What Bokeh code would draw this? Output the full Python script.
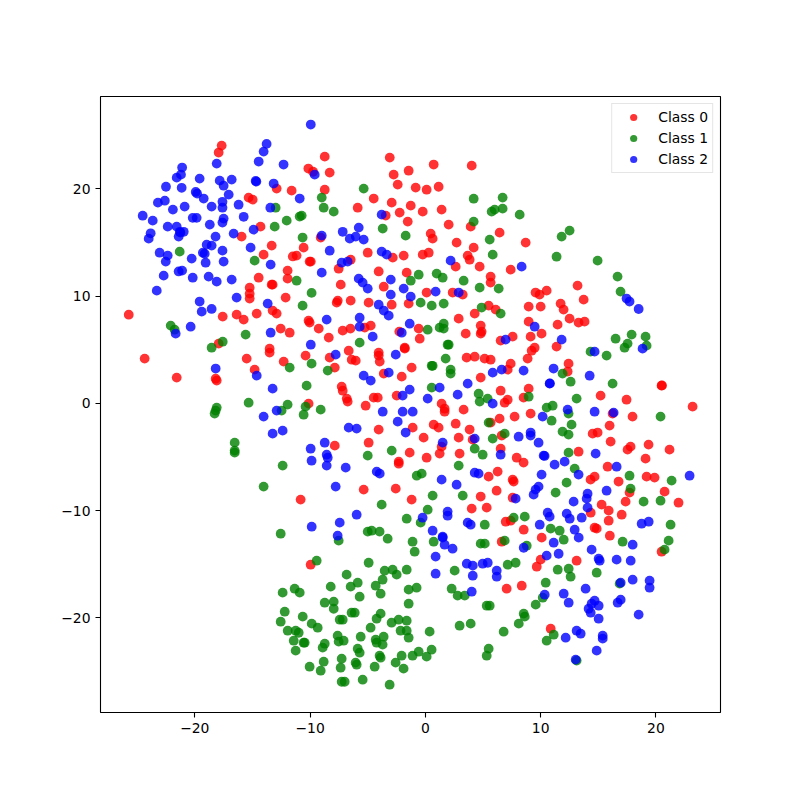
from bokeh.embed import file_html
from bokeh.resources import INLINE
from bokeh.plotting import figure
from bokeh.models import Range1d, FixedTicker, Legend, LegendItem

class0_x = [-17.67,-17.93,-10.15,-9.74,-12.9,-11.6,-15.33,-14.98,-14.3,-15.94,-13.33,-14.03,-10.56,-11.5,-11.17,-10.04,-11.95,-11.95,-14.46,-13.33,-13.25,-15.24,-15.24,-15.24,-12.12,
 -8.73,-3.09,0.72,4.02,-8.3,-2.75,-1.45,-2.4,-0.84,0.11,1.15,-8.73,-4.48,-2.92,-5.87,-1.27,-3.44,-2.23,-0.23,1.41,-1.53,2.02,3.93,0.46,0.63,6.44,-9.08,2.71,4.19,-5.0,-1.88,-0.23,0.29,-2.83,3.67,3.84,-6.48,-9.94,-7.52,2.63,4.71,-4.05,-1.62,7.4,5.66,5.66,-7.34,-3.61,0.11,2.37,3.24,-7.6,-7.69,-6.48,-4.92,-2.92,-1.45,5.49,
 8.7,13.2,9.56,9.91,10.52,13.73,11.73,8.96,10.0,
 -25.73,-17.58,-16.37,-15.76,-14.63,-13.25,-12.9,-12.55,-11.77,-10.13,-10.04,-17.93,-24.35,-15.5,-13.51,-13.51,-10.39,-12.29,-14.81,-21.57,-18.19,-18.1,-10.13,-10.82,
 6.1,4.28,2.89,-9.25,-8.38,-7.17,-6.5,-5.26,-4.74,-2.26,-0.58,-0.49,4.8,4.88,4.8,3.5,6.53,-6.65,-8.3,-6.39,-6.04,-4.05,-4.05,-3.96,-1.79,-1.79,3.58,4.28,5.14,5.66,7.4,-7.86,-3.61,-2.05,-1.19,7.14,4.8,-7.26,-7.17,-6.82,-6.74,-4.48,-4.13,-2.49,-5.18,6.53,7.14,6.88,1.41,1.67,1.67,3.32,6.44,2.63,0.72,1.15,-1.1,-4.05,3.84,5.66,-0.15,2.89,4.1,6.62,-7.86,-4.92,1.41,1.24,6.53,-1.36,2.97,0.11,-2.31,-2.31,6.27,5.49,-5.35,-2.57,6.18,4.8,-1.19,4.02,5.32,
 11.99,12.51,13.29,13.81,8.96,11.47,10.08,7.57,9.13,11.38,9.48,9.22,8.87,12.42,12.34,20.49,20.52,8.96,8.52,15.2,17.45,23.18,16.24,9.13,7.74,17.97,15.98,14.51,14.94,16.07,13.29,19.36,17.8,17.54,21.18,19.1,7.92,8.52,15.81,14.68,14.33,7.57,7.66,16.76,19.19,19.88,17.71,20.75,17.37,21.96,15.29,7.57,
 -9.95,
 6.97,7.4,8.53,10.09,6.62,14.34,15.9,17.03,15.9,14.68,14.86,16.0,20.49,13.12,10.0,9.66,7.05,8.36,10.87]
class0_y = [24.04,23.39,21.9,21.6,20.03,19.84,19.19,19.0,16.48,15.55,14.71,13.87,14.52,13.7,13.78,13.22,12.38,11.63,11.72,11.07,11.07,10.79,10.23,9.77,9.86,
 23.01,22.92,22.27,22.17,21.52,21.33,21.7,20.4,20.12,19.93,20.2,19.93,19.1,18.72,18.25,18.44,17.51,17.79,17.88,18.07,16.95,16.67,16.48,15.83,15.36,15.92,15.46,14.99,14.52,14.05,13.78,13.87,14.05,13.59,13.78,13.4,13.4,13.22,12.56,12.75,12.75,12.3,12.19,12.47,11.82,11.26,11.07,10.88,10.33,10.33,10.14,9.58,9.39,9.58,9.39,9.2,9.3,9.11,
 14.99,10.98,10.33,10.14,10.51,9.67,9.3,9.02,9.02,
 8.27,8.09,8.27,7.81,8.37,8.65,8.37,6.97,6.59,7.71,7.53,5.57,4.17,4.17,5.1,4.73,4.45,3.89,3.14,2.4,2.3,2.12,-0.03,-8.98,
 8.74,8.37,7.9,6.97,6.13,6.78,6.97,7.06,7.25,6.69,6.97,6.03,7.25,6.69,6.5,6.5,5.85,4.91,4.26,4.07,3.98,4.73,4.45,3.89,5.19,5.1,4.26,4.35,4.17,4.07,3.7,3.33,2.77,2.49,3.33,3.14,2.4,1.56,1.18,0.44,0.16,0.53,0.53,0.72,-0.22,1.18,0.34,0.06,-0.03,-0.5,-0.78,-0.59,-1.43,-1.9,-1.99,-2.27,-2.27,-2.45,-2.45,-1.8,-3.2,-3.2,-3.39,-3.01,-3.95,-3.67,-4.04,-4.69,-4.23,-4.6,-4.69,-5.07,-5.44,-5.63,-6.37,-6.84,-8.05,-7.96,-8.15,-8.7,-8.98,-9.82,-9.73,
 8.74,7.9,7.53,7.62,7.62,7.34,6.5,6.22,6.22,5.29,5.19,4.91,4.17,3.7,2.96,1.65,1.67,1.37,0.53,0.72,0.34,-0.31,-0.96,-0.96,-1.24,-1.24,-2.08,-2.83,-2.73,-3.57,-4.51,-3.85,-4.04,-4.32,-4.32,-5.16,-5.07,-5.53,-5.91,-6.84,-7.12,-7.12,-7.3,-7.3,-6.84,-6.93,-8.33,-8.24,-9.17,-9.27,-9.45,-8.8,
 -15.05,
 -11.04,-10.95,-11.79,-12.53,-12.91,-10.2,-10.01,-10.39,-10.95,-11.6,-11.69,-12.35,-13.84,-14.68,-14.58,-15.24,-17.29,-17.01,-21.02]

class1_x = [-12.99,-10.73,-10.9,-12.03,-13.07,-10.65,-21.31,-14.81,-11.17,-9.87,-10.65,
 -5.35,-8.99,-8.82,-7.95,4.19,6.7,6.7,6.01,5.75,4.19,-3.7,-1.71,5.58,5.84,-0.58,-1.27,0.98,1.5,3.32,4.71,6.36,-0.41,0.55,1.59,4.88,
 8.18,12.51,11.82,11.38,14.94,16.67,16.93,
 -22.09,-21.75,-15.59,-17.58,-18.54,-11.77,-9.87,-10.3,-15.33,-18.1,-18.19,-18.28,-11.95,-10.39,-10.56,-12.47,-16.54,-16.54,-16.54,-12.38,-14.03,
 6.53,0.2,1.24,1.59,1.59,-5.7,1.93,2.02,-8.47,1.76,0.55,0.63,2.19,2.19,0.55,4.62,4.71,5.4,-9.08,5.49,6.88,5.84,4.28,4.97,-5.0,-2.92,2.89,-0.32,-0.75,0.63,3.24,-3.79,0.2,
 17.89,16.5,19.1,17.54,17.28,19.19,14.33,15.72,11.9,12.6,16.24,8.96,13.12,10.52,11.04,12.42,10.95,20.4,12.68,11.9,12.42,12.42,12.95,17.71,21.36,12.25,17.8,11.3,18.93,20.4,
 -1.62,-0.41,-12.55,-7.52,-5.0,-4.66,-3.97,-3.27,-1.11,0.72,-0.93,-9.43,-4.92,-6.83,-3.53,-2.84,-2.49,-1.62,2.54,-3.71,-8.21,-5.87,-6.48,-4.31,-12.38,-11.34,-10.9,-5.7,-3.88,-1.45,-0.76,2.28,2.8,-8.73,-7.95,-7.95,-1.45,-12.2,-6.4,-6.13,-10.64,-3.88,-4.23,-7.43,-7.17,-12.55,-9.86,-2.93,-2.32,-1.62,-9.34,-4.75,2.97,-11.94,-11.25,-10.99,-2.15,-1.62,0.37,-7.61,-5.61,-3.62,-1.45,-11.42,-10.56,-10.47,-7.52,-7.09,-4.31,-4.23,-3.71,-8.73,-8.91,-11.25,-5.87,-5.7,0.54,-0.58,-1.11,0.11,-2.06,-3.97,-3.88,-7.26,-8.82,-6.05,-5.96,-2.58,-10.04,-7.35,-4.4,-1.89,-9.08,-5.44,-7.26,-7.0,-3.1,
 7.66,8.62,5.15,10.87,11.65,12.0,21.27,17.11,21.1,20.75,6.88,4.8,5.15,8.79,7.14,7.83,11.48,12.43,12.6,14.86,10.44,16.85,3.41,10.18,9.57,5.32,5.58,8.53,8.62,8.1,3.93,6.79,11.13,10.52,5.49,5.32,13.12]
class1_y = [18.25,17.51,17.42,17.04,16.48,15.46,14.15,13.31,11.44,10.3,9.11,
 20.03,19.19,18.25,17.88,19.09,19.19,18.16,18.07,17.88,16.95,16.3,15.64,15.27,13.87,12.0,11.44,12.1,11.72,11.44,10.79,10.7,9.39,9.11,9.3,8.93,
 17.6,16.11,15.55,13.68,13.31,11.82,10.42,
 7.25,6.87,6.41,5.75,5.19,3.33,3.7,1.65,0.06,-0.4,-0.68,-0.96,-0.12,-0.31,-1.06,-0.68,-3.67,-4.41,-4.6,-5.81,-7.77,
 8.37,6.87,7.06,7.43,6.97,5.66,5.47,5.47,3.05,4.17,3.5,3.5,3.14,2.77,1.46,0.9,0.16,0.44,-0.59,-1.8,-2.83,-3.29,-4.23,-4.79,-4.88,-4.41,-5.81,-6.56,-6.75,-8.61,-8.61,-9.45,-9.92,
 6.41,6.03,6.22,5.57,5.19,5.38,4.82,4.45,2.77,2.02,1.84,0.62,0.44,-0.4,-0.22,-0.96,-1.62,-1.24,-1.99,-2.64,-2.92,-4.6,-6.09,-6.75,-7.21,-7.4,-7.96,-8.33,-9.17,-9.08,
 -10.76,-11.13,-12.16,-12.81,-11.97,-11.88,-11.97,-12.63,-12.91,-12.91,-13.84,-14.68,-14.87,-15.98,-15.61,-15.52,-15.98,-15.52,-15.61,-16.45,-17.1,-16.73,-17.1,-17.01,-17.66,-17.29,-17.66,-18.04,-17.76,-17.38,-17.2,-17.29,-17.94,-18.6,-18.5,-19.16,-18.69,-19.44,-19.53,-19.53,-19.9,-19.62,-20.09,-20.18,-20.18,-20.37,-20.55,-20.46,-20.18,-20.28,-20.93,-20.93,-20.74,-21.21,-21.21,-21.4,-21.21,-21.21,-21.3,-21.67,-21.77,-21.77,-21.86,-22.14,-22.33,-22.33,-22.23,-22.14,-22.05,-22.33,-22.51,-22.42,-22.79,-23.07,-22.89,-23.26,-22.98,-23.17,-23.54,-23.63,-23.54,-23.54,-23.73,-23.82,-24.1,-24.19,-24.38,-24.19,-24.57,-24.66,-24.57,-24.75,-24.94,-25.78,-25.97,-25.97,-26.25,
 -10.67,-10.57,-11.32,-11.69,-11.88,-12.72,-11.32,-12.91,-12.81,-13.65,-12.81,-13.09,-13.09,-13.28,-15.05,-14.87,-15.52,-15.43,-16.17,-15.8,-16.73,-16.82,-17.94,-18.13,-18.78,-18.88,-18.88,-19.62,-19.9,-20.55,-20.55,-21.3,-21.58,-22.14,-22.89,-23.54,-24.0]

class2_x = [-13.77,-14.03,-14.46,-18.1,-12.3,-21.1,-21.2,-21.57,-19.58,-17.84,-16.8,-14.72,-14.66,-22.5,-21.14,-17.5,-13.16,-19.92,-19.8,-17.06,-19.23,-22.6,-23.2,-10.9,-17.6,-16.2,-20.88,-18.54,-17.6,-13.45,-21.9,-24.52,-23.65,-20.18,-19.84,-17.5,-15.76,-17.6,-18.7,-22.35,-21.57,-14.9,-16.63,-20.96,-21.3,-21.25,-23.83,-24.0,-21.4,-18.2,-18.97,-18.54,-15.16,-17.6,-23.05,-19.3,-19.14,-22.35,-20.27,-22.52,-19.06,-17.5,-13.42,-21.4,-21.1,-22.7,-20.18,-18.8,-18.1,-16.8,-23.3,-16.37,-19.58,-13.68,-18.54,
 -9.94,-9.6,-7.17,-5.78,-6.56,-6.04,-5.35,-8.99,-8.3,-3.79,-3.79,-3.35,-7.26,-6.74,-8.99,-5.78,-5.44,-5.0,-3.0,-1.88,-3.0,-1.27,0.89,2.89,2.19,-4.05,
 8.35,17.45,17.71,18.5,
 -19.4,-20.36,-21.66,-13.42,-9.94,-18.19,-14.63,-13.25,-12.9,-14.03,-12.38,-13.25,-9.95,-9.87,
 -3.61,-3.18,-5.7,-8.56,-5.7,-4.57,-1.36,-2.05,-7.78,-2.57,6.96,6.62,5.84,-3.18,-5.35,-4.74,3.67,1.24,-1.36,-1.97,2.8,0.2,5.84,-3.7,-1.97,-1.1,-2.4,-6.65,-5.96,-1.71,1.5,4.28,-8.73,-8.56,-8.47,-8.56,-6.91,-4.22,-3.96,6.53,4.28,4.62,1.41,2.71,-7.78,
 9.48,11.82,14.68,18.84,11.12,8.52,14.25,10.78,10.8,12.34,10.17,14.68,16.33,8.09,9.13,9.13,9.82,10.26,10.34,14.77,11.21,12.08,16.59,13.29,10.08,22.92,9.82,9.56,9.39,15.72,14.07,13.99,12.86,14.07,7.83,
 -5.96,-9.86,-7.43,-7.61,1.93,1.93,-0.24,0.63,1.5,1.5,1.67,2.36,0.89,0.89,
 10.61,10.78,12.26,12.52,13.56,3.67,3.93,9.92,18.76,19.37,12.95,13.3,11.13,17.98,8.53,11.56,10.52,14.42,15.03,15.12,16.59,17.81,3.59,4.11,4.97,5.41,6.19,6.19,4.11,16.94,17.98,19.45,19.45,13.9,4.02,10.35,12.0,12.43,16.94,16.68,14.68,14.42,15.03,14.16,14.34,15.03,18.5,13.12,13.47,12.17,15.38,15.38,14.86,13.04]
class2_y = [24.2,23.48,22.55,22.36,22.27,21.99,21.33,21.05,20.96,20.77,20.87,20.74,20.68,20.2,20.1,20.3,20.5,19.72,19.56,19.47,19.1,18.9,18.72,19.1,18.8,18.53,18.35,18.35,18.25,18.25,18.07,17.5,17.04,17.3,17.3,17.23,17.4,16.86,16.67,16.48,16.48,16.2,15.83,16.0,16.0,15.92,15.86,15.36,15.55,15.55,14.8,14.71,14.52,14.24,14.05,14.05,13.96,13.78,13.5,13.22,13.12,13.22,12.94,12.3,12.38,11.91,11.72,11.82,11.35,11.54,10.51,9.86,9.49,9.3,8.8,
 26.0,21.33,16.0,16.39,15.36,15.55,15.27,15.64,14.24,17.6,14.15,13.87,13.12,13.22,12.19,11.63,11.26,10.7,11.54,10.7,10.14,9.95,10.42,10.33,13.31,9.2,
 12.75,9.77,9.49,8.8,
 8.55,7.15,6.5,6.59,5.47,3.24,2.58,1.37,-0.68,-1.24,-2.55,-2.83,-4.23,-5.35,
 8.65,8.18,7.99,7.81,7.15,6.22,7.43,6.59,4.54,4.54,5.94,3.14,2.86,2.86,2.58,2.12,1.84,1.46,1.28,0.72,0.81,0.44,-0.03,-0.78,-0.78,-0.78,-1.71,-2.27,-2.36,-2.73,-3.67,-3.29,-3.67,-4.79,-5.07,-5.81,-6.0,-6.37,-6.56,-4.79,-6.47,-6.56,-7.12,-7.59,-7.77,
 7.15,5.94,4.82,5.1,3.24,3.05,2.58,1.84,1.86,-0.59,-1.24,-0.78,-0.87,-3.11,-2.73,-3.01,-3.67,-4.88,-4.91,-4.69,-5.72,-5.44,-5.91,-6.65,-6.65,-6.75,-7.77,-8.05,-8.52,-8.15,-8.43,-8.89,-9.17,-9.73,-8.89,
 -10.39,-11.51,-11.13,-12.35,-10.1,-10.48,-10.67,-11.88,-12.44,-12.53,-13.19,-13.56,-14.3,-15.89,
 -10.2,-10.57,-10.29,-10.76,-10.67,-11.13,-11.32,-11.32,-11.23,-11.04,-11.79,-12.53,-13.0,-13.19,-13.47,-14.03,-14.21,-13.65,-14.49,-14.68,-14.58,-14.68,-14.96,-15.14,-14.96,-14.87,-15.61,-16.17,-16.08,-16.73,-16.45,-16.54,-17.2,-17.29,-17.57,-17.85,-17.76,-18.6,-18.32,-18.6,-18.41,-18.69,-18.88,-19.16,-19.53,-20.09,-19.71,-21.21,-21.49,-21.86,-21.67,-21.95,-23.07,-23.91]

class_names = ["Class 0", "Class 1", "Class 2"]
class_colors = ["red", "green", "blue"]
tick_values = [-20, -10, 0, 10, 20]
tick_labels = {-20: "\u221220", -10: "\u221210", 0: "0", 10: "10", 20: "20"}

p = figure(width=800, height=800, output_backend="svg", toolbar_location=None,
           x_range=Range1d(-28.18, 25.6), y_range=Range1d(-28.84, 28.62),
           min_border_left=100, min_border_right=80, min_border_top=96, min_border_bottom=88)
p.grid.visible = False
p.outline_line_color = "black"
p.outline_line_width = 1.1
p.background_fill_color = "white"
p.border_fill_color = "white"

for ax in (p.xaxis[0], p.yaxis[0]):
    ax.ticker = FixedTicker(ticks=tick_values)
    ax.major_label_overrides = tick_labels
    ax.minor_tick_line_color = None
    ax.axis_line_color = None
    ax.major_tick_line_color = "black"
    ax.major_tick_line_width = 1.1
    ax.major_tick_in = 0
    ax.major_tick_out = 5
    ax.major_label_text_font = "DejaVu Sans"
    ax.major_label_text_font_size = "13.9px"
    ax.major_label_text_color = "black"
    ax.major_label_standoff = 5

renderers = []
for xs, ys, c in ((class0_x, class0_y, class_colors[0]),
                  (class1_x, class1_y, class_colors[1]),
                  (class2_x, class2_y, class_colors[2])):
    r = p.scatter(xs, ys, size=9.8, fill_color=c, fill_alpha=0.8, line_color=None)
    renderers.append(r)

legend = Legend(items=[LegendItem(label=n, renderers=[r]) for n, r in zip(class_names, renderers)],
                location="top_right", margin=7, padding=4, spacing=3,
                glyph_width=34, glyph_height=18, label_height=18, label_standoff=8,
                label_text_font="DejaVu Sans", label_text_font_size="13.9px",
                label_text_color="black", border_line_color="#cccccc", border_line_width=1.1,
                background_fill_color="white", background_fill_alpha=0.8)
p.add_layout(legend)

open("out.html", "w").write(file_html(p, INLINE))
